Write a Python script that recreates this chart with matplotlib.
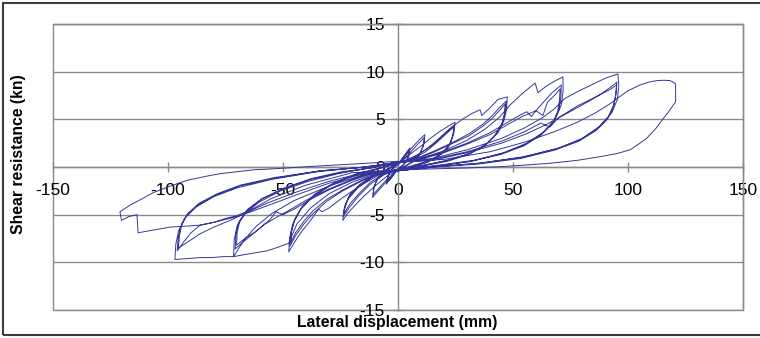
import matplotlib
matplotlib.use('Agg')
import matplotlib.pyplot as plt
import numpy as np
from matplotlib.patches import Rectangle

plt.rcParams['font.family'] = ['Liberation Sans', 'DejaVu Sans']
plt.rcParams['axes.unicode_minus'] = False

x_ticks = [-150, -100, -50, 0, 50, 100, 150]
y_ticks = [-15, -10, -5, 0, 5, 10, 15]
x_label = 'Lateral displacement (mm)'
y_label = 'Shear resistance (kn)'

# ---- hysteresis data (mm, kN) ----
lvl1_x = [0, 1.5, 3, 4.5, 5.2, 4.8, 3.5, 2, 0, -1.5, -3, -4.5, -5, -4.6, -3.4, -2, 0,
          1.5, 3, 4.5, 5, 4.6, 3.4, 2, 0, -1.5, -3, -4.5, -4.8, -4.4, -3.2, -1.8, 0]
lvl1_y = [0.2, 0.8, 1.3, 1.8, 2.0, 1.3, 0.6, 0.2, -0.2, -0.7, -1.2, -1.6, -1.8, -1.1, -0.5, -0.1, 0.3,
          0.7, 1.1, 1.6, 1.8, 1.1, 0.5, 0.1, -0.2, -0.6, -1.1, -1.5, -1.6, -1.0, -0.4, 0.0, 0.3]

lvl2_x = [0, 3, 6, 9, 11.7, 11.2, 9.5, 6.5, 3, 0, -3, -6, -9, -11, -10.6, -9, -6, -3, 0,
          3, 6, 9, 11.5, 11, 9.3, 6.3, 2.8, 0, -3, -6, -9, -10.8, -10.3, -8.7, -5.8, -2.8, 0]
lvl2_y = [0.3, 1.2, 2.0, 2.8, 3.4, 2.4, 1.4, 0.6, 0.1, -0.3, -1.0, -1.8, -2.6, -3.2, -2.2, -1.3, -0.6, -0.1, 0.3,
          0.9, 1.7, 2.5, 3.1, 2.2, 1.2, 0.5, 0.0, -0.3, -0.9, -1.6, -2.4, -2.9, -2.0, -1.1, -0.5, 0.0, 0.4]

lvl3_x = [0, 5, 10, 14, 18, 22, 24.8, 24.3, 22.8, 19.5, 14, 7, 0,
          -5, -10, -15, -19, -22, -24, -23.6, -21.8, -17.5, -11.5, -5.5, 0,
          6, 12, 17, 21, 24.5, 24, 22.3, 19, 13.5, 6.5, 0,
          -6, -12, -17, -21, -23.8, -23.3, -21.3, -17, -11, -5, 0,
          6, 12, 17, 21, 24.3, 23.8, 22, 18.5, 13, 6, 0,
          -6, -12, -17, -21, -23.5, -23, -21, -16.5, -10.5, -4.5, 0]
lvl3_y = [0.4, 1.3, 2.2, 3.0, 3.7, 4.3, 4.7, 3.6, 2.5, 1.5, 0.7, 0.2, -0.3,
          -1.0, -2.0, -3.1, -4.1, -4.9, -5.6, -4.6, -3.4, -2.2, -1.1, -0.4, 0.4,
          0.9, 1.8, 2.8, 3.7, 4.4, 3.4, 2.3, 1.4, 0.6, 0.1, -0.3,
          -0.8, -1.8, -3.0, -4.2, -5.2, -4.3, -3.1, -2.0, -1.0, -0.3, 0.4,
          0.8, 1.6, 2.6, 3.5, 4.2, 3.2, 2.1, 1.3, 0.5, 0.0, -0.3,
          -0.7, -1.6, -2.8, -3.9, -4.9, -4.0, -2.9, -1.8, -0.9, -0.2, 0.4]

lvl4_x = [0, 8, 15, 20, 24, 28, 32, 35.7, 36.4, 40, 43.5, 47.5, 47.2, 46, 43.5, 39, 32, 23, 12, 0,
          -8, -16, -24, -30, -33, -34.5, -38, -42, -45, -47.5, -47.1, -45.8, -42.5, -37, -29, -19, -9, 0,
          8, 16, 24, 31, 37, 41, 44, 47, 46.6, 45.3, 42.5, 38, 31, 22, 11, 0,
          -8, -16, -24, -31, -37, -41, -44.5, -47, -46.6, -45.2, -42, -36.5, -28.5, -18.5, -8.5, 0,
          8, 16, 24, 31, 37, 41, 44, 46.6, 46.2, 45, 42, 37.5, 30.5, 21.5, 10.5, 0,
          -8, -16, -24, -31, -37, -41, -44.5, -46.6, -46.2, -44.8, -41.5, -36, -28, -18, -8, 0]
lvl4_y = [0.4, 1.2, 2.3, 3.4, 4.3, 5.0, 5.6, 6.0, 5.4, 6.2, 7.1, 7.35, 6.0, 4.8, 3.6, 2.5, 1.5, 0.8, 0.2, -0.3,
          -0.8, -1.9, -3.2, -4.3, -4.7, -4.4, -5.6, -6.8, -7.9, -8.9, -7.4, -6.0, -4.5, -3.1, -1.9, -0.9, -0.2, 0.4,
          0.9, 1.7, 2.6, 3.5, 4.5, 5.4, 6.2, 6.9, 5.7, 4.6, 3.4, 2.3, 1.4, 0.7, 0.2, -0.3,
          -0.7, -1.5, -2.5, -3.6, -4.9, -6.0, -7.2, -8.3, -7.0, -5.7, -4.3, -3.0, -1.8, -0.8, -0.2, 0.4,
          0.8, 1.6, 2.5, 3.3, 4.3, 5.1, 5.9, 6.6, 5.5, 4.4, 3.3, 2.2, 1.3, 0.6, 0.1, -0.3,
          -0.6, -1.4, -2.4, -3.4, -4.6, -5.7, -6.9, -7.9, -6.7, -5.4, -4.1, -2.8, -1.7, -0.7, -0.1, 0.4]

lvl5_x = [0, 10, 20, 30, 38, 44, 48.7, 54, 59.6, 60.9, 64, 68, 71.7, 71.8, 71, 68.5, 63.5, 56, 46, 33, 18, 0,
          -10, -20, -30, -38, -44, -47.5, -52, -57, -62, -67, -71.5, -71.2, -70, -66.5, -60.5, -51, -39, -26, -13, 0,
          10, 20, 30, 40, 47, 52, 56, 58, 61, 64, 67, 71, 70.8, 70, 67.5, 62.5, 55, 45, 32, 17, 0,
          -10, -20, -30, -38, -45, -50, -53, -56, -61, -65, -68, -70.8, -70.5, -69.3, -65.8, -59.5, -50, -38, -25, -12, 0,
          10, 20, 30, 40, 48, 54, 60, 63, 65, 68, 70.5, 70.2, 69.4, 67, 62, 54.5, 44.5, 31.5, 16.5, 0,
          -10, -20, -30, -40, -47, -53, -58, -62, -66, -70.2, -69.9, -68.7, -65.2, -59, -49.5, -37.5, -24.5, -11.5, 0]
lvl5_y = [0.4, 0.9, 1.7, 2.8, 4.0, 5.2, 6.5, 7.7, 8.8, 7.8, 8.4, 9.0, 9.45, 8.0, 6.5, 5.1, 3.7, 2.5, 1.5, 0.7, 0.2, -0.3,
          -0.7, -1.6, -2.8, -4.3, -6.0, -8.0, -8.4, -8.8, -9.0, -9.2, -9.4, -7.6, -6.2, -4.9, -3.7, -2.5, -1.5, -0.7, -0.1, 0.5,
          0.9, 1.6, 2.5, 3.6, 4.6, 5.3, 5.8, 5.3, 6.2, 7.0, 7.8, 8.6, 7.3, 6.0, 4.7, 3.5, 2.3, 1.4, 0.6, 0.1, -0.3,
          -0.6, -1.4, -2.4, -3.4, -4.4, -5.0, -4.7, -5.6, -6.6, -7.4, -8.0, -8.6, -7.1, -5.8, -4.6, -3.4, -2.3, -1.3, -0.6, -0.1, 0.5,
          0.8, 1.5, 2.4, 3.4, 4.5, 5.3, 5.9, 5.4, 6.8, 7.5, 8.2, 7.0, 5.8, 4.5, 3.3, 2.2, 1.3, 0.6, 0.1, -0.3,
          -0.5, -1.3, -2.3, -3.5, -4.5, -5.3, -6.0, -6.8, -7.4, -8.2, -6.8, -5.6, -4.4, -3.3, -2.2, -1.2, -0.5, -0.1, 0.5]

lvl6_x = [0, 15, 30, 45, 55, 63, 68, 72.6, 78, 84, 90, 95.6, 96, 95.4, 93, 88, 80, 70, 55, 36, 16, 0,
          -15, -30, -45, -55, -62, -67, -71.5, -76, -81, -86, -91, -97, -96.6, -95.4, -92.8, -87.8, -80, -70, -55, -35, -15, 0,
          15, 30, 45, 55, 62, 66, 70, 74, 78, 83, 88, 92, 95.2, 94.8, 93.8, 91.5, 86.5, 79, 69, 54, 35, 15, 0,
          -15, -30, -45, -55, -64, -70, -75, -80, -86, -90, -93, -96, -95.6, -94.5, -92, -87, -79, -69, -54, -34, -14, 0,
          15, 30, 45, 56, 64, 71, 77, 83, 88, 92, 95, 94.6, 93.5, 91, 86, 78.5, 68.5, 53.5, 34.5, 14.5, 0,
          -15, -30, -45, -57, -66, -73, -80, -86, -91, -95.5, -95, -94, -91.5, -86.5, -78.5, -68.5, -53.5, -33.5, -13.5, 0]
lvl6_y = [0.5, 0.9, 1.8, 3.0, 4.1, 5.2, 6.1, 7.2, 7.9, 8.6, 9.3, 9.76, 8.5, 7.1, 5.7, 4.3, 3.0, 2.0, 1.1, 0.4, 0.0, -0.4,
          -0.8, -2.0, -3.5, -4.9, -6.3, -7.7, -9.4, -9.4, -9.5, -9.5, -9.6, -9.7, -8.1, -6.7, -5.4, -4.2, -3.1, -2.2, -1.3, -0.5, 0.0, 0.5,
          0.8, 1.6, 2.7, 3.7, 4.6, 4.2, 5.2, 5.8, 6.4, 7.0, 7.6, 8.3, 8.9, 7.7, 6.5, 5.3, 4.0, 2.8, 1.9, 1.0, 0.4, 0.0, -0.4,
          -0.7, -1.7, -3.0, -3.9, -4.7, -5.2, -5.5, -5.8, -6.1, -6.9, -7.8, -8.8, -7.5, -6.3, -5.1, -4.0, -2.9, -2.0, -1.2, -0.4, 0.0, 0.5,
          0.7, 1.5, 2.5, 3.5, 4.4, 5.3, 6.1, 6.9, 7.6, 8.1, 8.6, 7.4, 6.2, 5.0, 3.8, 2.7, 1.8, 0.9, 0.3, 0.0, -0.4,
          -0.6, -1.5, -2.7, -3.8, -4.8, -5.6, -6.3, -7.0, -7.8, -8.5, -7.2, -6.0, -4.9, -3.8, -2.8, -1.9, -1.1, -0.4, 0.0, 0.5]

lvl7_x = [0, 20, 40, 55, 68, 78, 86, 92, 96.5, 100, 105.2, 109, 112.5, 115.5, 118.3, 120.4, 120.7, 120.7, 118, 115.4,
          112, 108.1, 104, 100.9, 95, 87.8, 78, 66.1, 55, 44.3, 30, 15, 0,
          -20, -40, -55, -64, -70, -75, -80, -86, -92, -99, -106, -113, -113.5, -117, -120.2, -120.9, -116.5, -111, -106.5, -99,
          -91.7, -84, -77.4, -70, -63, -55, -48, -35, -20, 0]
lvl7_y = [0.5, 0.8, 1.6, 2.6, 3.7, 4.7, 5.7, 6.6, 7.4, 8.0, 8.6, 8.9, 9.06, 9.1, 9.06, 8.8, 8.6, 6.85, 5.9, 5.1,
          4.0, 3.0, 2.3, 1.8, 1.4, 1.08, 0.7, 0.39, 0.2, 0.03, -0.1, -0.2, -0.3,
          -0.6, -1.9, -3.3, -4.5, -5.1, -5.4, -5.8, -6.1, -6.2, -6.3, -6.6, -6.9, -5.0, -5.2, -5.6, -4.7, -4.0, -3.3, -2.7, -2.0,
          -1.4, -1.0, -0.7, -0.5, -0.3, -0.2, -0.1, 0.1, 0.3, 0.6]

disp = np.concatenate([lvl1_x, lvl2_x, lvl3_x, lvl4_x, lvl5_x, lvl6_x, lvl7_x])
force = np.concatenate([lvl1_y, lvl2_y, lvl3_y, lvl4_y, lvl5_y, lvl6_y, lvl7_y])

W, H = 760, 338
fig = plt.figure(figsize=(W / 100, H / 100), dpi=100)
ax = fig.add_axes([53 / W, 1 - 310 / H, (743 - 53) / W, (310 - 24) / H])

grid_c = '#8a8a8a'
ax.plot(disp, force, color='#36369a', lw=0.7, zorder=3)

ax.set_xlim(-150, 150)
ax.set_ylim(-15, 15)
ax.set_xticks(x_ticks)
ax.set_yticks(y_ticks)
ax.yaxis.grid(True, color=grid_c, lw=1)
ax.spines['left'].set_position('zero')
ax.spines['bottom'].set_position('zero')
for s in ax.spines.values():
    s.set_color(grid_c)
    s.set_linewidth(1)
ax.add_patch(Rectangle((0, 0), 1, 1, transform=ax.transAxes, fill=False,
                       ec=grid_c, lw=1, clip_on=False))
ax.tick_params(axis='both', direction='inout', length=7, width=1, color=grid_c,
               labelsize=12.5, labelcolor='black')
ax.tick_params(axis='x', pad=8)
ax.tick_params(axis='y', pad=6)

fig.text(397 / W, 1 - 322 / H, x_label, ha='center', va='center',
         fontsize=11.3, fontweight='bold')
fig.text(19 / W, 1 - 154 / H, y_label, ha='center', va='center',
         rotation=90, fontsize=11.3, fontweight='bold')

fig.patches.append(Rectangle((3 / W, 3 / H), 760 / W, 332 / H, transform=fig.transFigure,
                             fill=False, ec='#3c3c3c', lw=1.5))

fig.savefig('out.png', dpi=100)
